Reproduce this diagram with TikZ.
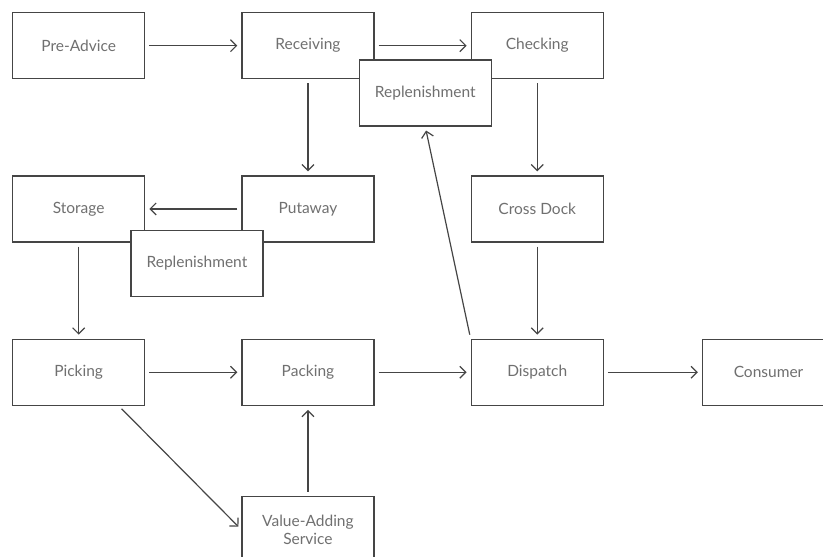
\documentclass[tikz,border=0pt]{standalone}
\usepackage{fontspec}
\setmainfont{Lato}
\usetikzlibrary{arrows.meta, positioning}
\definecolor{inkgray}{HTML}{454545}
\definecolor{textgray}{HTML}{707070}

\begin{document}
\begin{tikzpicture}[node distance=96pt and 96pt,
  every node/.style={font=\fontsize{15.5}{18}\selectfont, text=textgray},
  box/.style={draw=inkgray, line width=1.3pt, fill=white, minimum width=132pt, minimum height=66pt, align=center, inner sep=2pt},
  flow/.style={draw=inkgray, line width=1.2pt, -{Straight Barb[length=6pt,width=12pt]}, shorten <=4pt, shorten >=4pt}]
\clip (0,0) rectangle (823pt,-557pt);
% Stages
\node[box, anchor=north west] (PreAdvice) at (12pt,-12pt) {Pre-Advice};
\node[box, right=of PreAdvice] (Receiving) {Receiving};
\node[box, right=of Receiving] (Checking) {Checking};
\node[box, below=of PreAdvice] (Storage) {Storage};
\node[box, below=of Receiving] (Putaway) {Putaway};
\node[box, below=of Checking] (CrossDock) {Cross Dock};
\node[box, below=of Storage] (Picking) {Picking};
\node[box, right=of Picking] (Packing) {Packing};
\node[box, right=of Packing] (Dispatch) {Dispatch};
\node[box, right=98pt of Dispatch] (Consumer) {Consumer};
\node[box, below=90pt of Packing] (ValueAdding) {Value-Adding\\Service};
% Replenishment
\node[box, anchor=north west] (ReplTop) at ([shift={(-16pt,20pt)}]Receiving.south east) {Replenishment};
\node[box, anchor=north west] (ReplMid) at ([shift={(-15pt,13pt)}]Storage.south east) {Replenishment};
% Arrows
\draw[flow] (PreAdvice) -- (Receiving);
\draw[flow] (Receiving) -- (Checking);
\draw[flow] (Receiving) -- (Putaway);
\draw[flow] (Checking) -- (CrossDock);
\draw[flow] (Putaway) -- (Storage);
\draw[flow] (Storage) -- (Picking);
\draw[flow] (CrossDock) -- (Dispatch);
\draw[flow] (Picking) -- (Packing);
\draw[flow] (Packing) -- (Dispatch);
\draw[flow] (Dispatch) -- (Consumer);
\draw[flow] (Picking.320) -- (ValueAdding.west);
\draw[flow] (ValueAdding) -- (Packing);
\draw[flow] (Dispatch.north west) -- (ReplTop.south);
\end{tikzpicture}
\end{document}
